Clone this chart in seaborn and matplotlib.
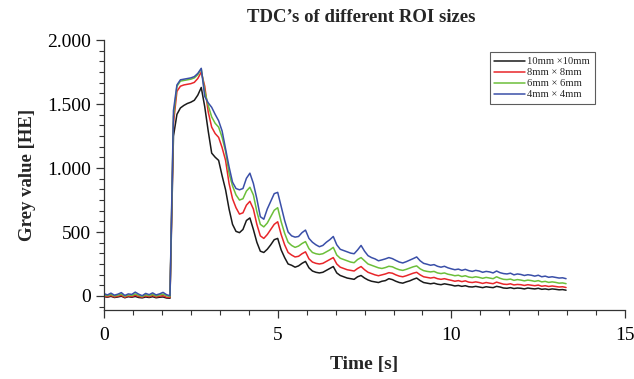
import numpy as np
import pandas as pd
import matplotlib
matplotlib.use("Agg")
import matplotlib.pyplot as plt
from matplotlib.ticker import MultipleLocator, FuncFormatter
import seaborn as sns

# time axis, 0.1 s steps
time_s = [round(0.1 * i, 1) for i in range(134)]

roi_10mm = [-5, -10, -3, -12, -8, -2, -14, -6, -10, -4, -12, -15, -8, -12, -6, -14, -10, -8, -16, -18,
            1250, 1420, 1470, 1490, 1505, 1515, 1530, 1570, 1630, 1480,
            1290, 1117, 1085, 1060, 940, 830, 680, 560, 505, 495,
            520, 590, 610, 520, 420, 350, 340, 365, 400, 440,
            450, 360, 300, 250, 240, 225, 235, 255, 270, 220,
            195, 185, 180, 185, 200, 215, 230, 180, 160, 150,
            140, 135, 130, 150, 160, 140, 125, 115, 110, 105,
            115, 120, 135, 128, 115, 105, 100, 110, 118, 130,
            140, 120, 105, 100, 95, 100, 92, 88, 95, 90,
            85, 78, 82, 75, 80, 72, 70, 75, 70, 65,
            72, 68, 65, 75, 70, 62, 60, 65, 58, 62,
            60, 55, 62, 58, 55, 60, 52, 55, 50, 55,
            52, 48, 50, 45]

roi_8mm = [0, -6, 4, -8, -2, 5, -10, 0, -5, 6, -4, -10, 2, -6, 4, -8, -2, 3, -10, -12,
           1350, 1600, 1640, 1650, 1655, 1660, 1670, 1700, 1750, 1640,
           1440, 1320, 1270, 1240, 1160, 1060, 880, 760, 690, 640,
           650, 710, 740, 680, 560, 470, 450, 480, 520, 560,
           580, 480, 400, 340, 320, 305, 310, 330, 345, 290,
           265, 255, 250, 255, 270, 285, 300, 250, 225, 215,
           205, 200, 195, 215, 230, 205, 185, 175, 165, 158,
           165, 172, 182, 178, 165, 155, 150, 158, 168, 178,
           185, 165, 150, 145, 140, 145, 135, 130, 135, 128,
           122, 115, 120, 112, 118, 108, 105, 110, 105, 98,
           105, 100, 96, 108, 100, 92, 90, 95, 86, 90,
           88, 82, 88, 84, 80, 85, 76, 80, 74, 78,
           74, 70, 72, 66]

roi_6mm = [8, 2, 12, 0, 6, 14, -2, 8, 4, 16, 5, -4, 10, 2, 12, 0, 8, 14, 2, -5,
           1400, 1640, 1680, 1685, 1690, 1695, 1705, 1730, 1775, 1600,
           1490, 1400, 1350, 1320, 1240, 1130, 960, 860, 790, 750,
           760, 820, 850, 790, 660, 560, 540, 570, 620, 670,
           690, 580, 490, 420, 395, 380, 390, 410, 425, 370,
           340, 330, 325, 330, 345, 360, 380, 320, 295, 285,
           275, 265, 260, 285, 300, 275, 250, 240, 230, 220,
           215, 222, 232, 228, 215, 205, 200, 208, 218, 228,
           235, 212, 198, 192, 188, 192, 180, 175, 180, 170,
           165, 158, 162, 152, 158, 148, 144, 150, 145, 138,
           145, 140, 135, 150, 138, 130, 128, 132, 122, 128,
           124, 118, 124, 120, 114, 120, 110, 114, 106, 110,
           106, 100, 102, 96]

roi_4mm = [18, 8, 22, 6, 14, 26, 4, 16, 12, 30, 14, 2, 20, 10, 24, 8, 16, 28, 10, 2,
           1450, 1650, 1690, 1695, 1700, 1705, 1715, 1740, 1780, 1560,
           1510, 1475, 1420, 1370, 1290, 1150, 1010, 890, 840, 830,
           840, 920, 960, 880, 760, 620, 600, 680, 740, 800,
           810, 700, 590, 500, 470, 460, 465, 495, 515, 450,
           420, 400, 385, 395, 420, 440, 465, 400, 365, 355,
           345, 335, 330, 360, 395, 350, 315, 300, 290, 275,
           282, 290, 300, 292, 278, 265, 258, 268, 280, 292,
           305, 275, 255, 248, 240, 245, 232, 225, 232, 220,
           212, 205, 210, 200, 208, 198, 192, 200, 195, 185,
           192, 188, 180, 195, 182, 175, 172, 178, 165, 172,
           168, 160, 166, 162, 155, 162, 150, 155, 146, 150,
           145, 140, 142, 135]

labels = ["10mm \u00d710mm", "8mm \u00d7 8mm", "6mm \u00d7 6mm", "4mm \u00d7 4mm"]
colors = ["#1a1a1a", "#e8262a", "#6cbf3a", "#3a4fa8"]

frames = []
for lab, vals in zip(labels, [roi_10mm, roi_8mm, roi_6mm, roi_4mm]):
    frames.append(pd.DataFrame({"time": time_s, "grey": vals, "roi": lab}))
df = pd.concat(frames, ignore_index=True)

sns.set_style("ticks")
plt.rcParams["font.family"] = ["Liberation Serif", "DejaVu Serif"]

fig = plt.figure(figsize=(6.34, 3.79), dpi=100)
ax = fig.add_axes([0.164, 0.182, 0.822, 0.712])

sns.lineplot(data=df, x="time", y="grey", hue="roi", hue_order=labels,
             palette=dict(zip(labels, colors)), linewidth=1.1, ax=ax,
             estimator=None, sort=False)

ax.set_xlim(0, 15)
ax.set_ylim(-110, 2000)
ax.xaxis.set_major_locator(MultipleLocator(5))
ax.xaxis.set_minor_locator(MultipleLocator(5 / 6))
ax.yaxis.set_major_locator(MultipleLocator(500))
ax.yaxis.set_minor_locator(MultipleLocator(500 / 6))
ax.yaxis.set_major_formatter(FuncFormatter(lambda v, p: f"{int(v):,}".replace(",", ".")))

ax.tick_params(which="major", direction="out", length=6, width=0.9, labelsize=14, colors="#333333",
               labelcolor="black")
ax.tick_params(axis="x", which="major", pad=6)
ax.tick_params(which="minor", direction="out", length=3.5, width=0.8, colors="#333333")
for s in ["top", "right"]:
    ax.spines[s].set_visible(False)
for s in ["left", "bottom"]:
    ax.spines[s].set_color("#333333")
    ax.spines[s].set_linewidth(0.9)

ax.set_xlabel("Time [s]", fontsize=14, fontweight="bold", labelpad=9)
ax.set_ylabel("Grey value [HE]", fontsize=13.5, fontweight="bold", labelpad=8)
fig.suptitle("TDC\u2019s of different ROI sizes", fontsize=13.5, fontweight="bold", x=0.57, y=0.975)

leg = ax.legend(loc="upper left", bbox_to_anchor=(0.74, 0.955), fontsize=7.6, frameon=True,
                fancybox=False, handlelength=2.9, handletextpad=0.2, borderpad=0.45,
                labelspacing=0.15, borderaxespad=0, title=None)
leg.get_frame().set_edgecolor("#333333")
leg.get_frame().set_linewidth(0.8)

fig.savefig("out.png", dpi=100)
